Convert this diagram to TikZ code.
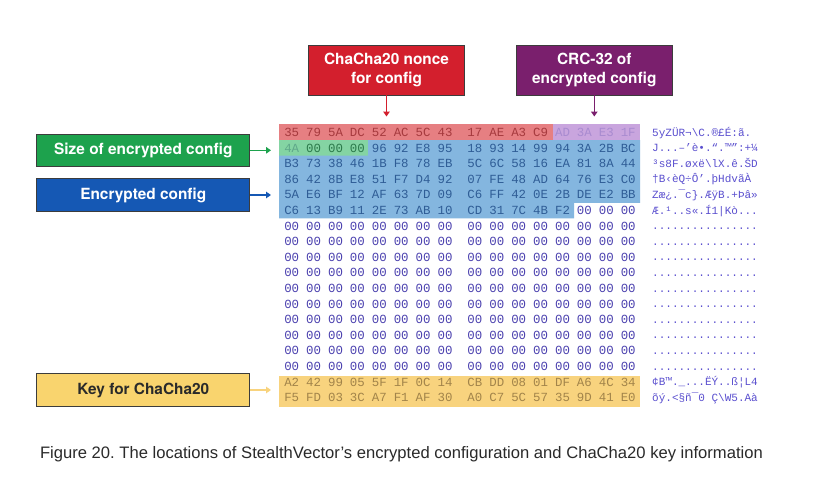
\documentclass[tikz,border=0pt]{standalone}
\usepackage{fontspec}
\setmainfont{Liberation Sans}
\setmonofont{Liberation Mono}
\newfontfamily\policeCadre{TeX Gyre Heros}
\usepackage{xcolor}
\definecolor{hexRed}{HTML}{D31F2D}
\definecolor{hexPurple}{HTML}{7A1F6D}
\definecolor{hexGreen}{HTML}{1DA24D}
\definecolor{hexBlue}{HTML}{1558B4}
\definecolor{hexYellow}{HTML}{F9D46E}
\definecolor{hexFrame}{HTML}{3C3C3C}
\definecolor{hexRedPale}{HTML}{E67F82}
\definecolor{hexPurplePale}{HTML}{C9A5DE}
\definecolor{hexGreenPale}{HTML}{84D4A3}
\definecolor{hexBluePale}{HTML}{84B6DF}
\definecolor{hexYellowPale}{HTML}{F8D37E}
\definecolor{hexRedText}{HTML}{A63A3E}
\definecolor{hexPurpleText}{HTML}{A98BD0}
\definecolor{hexGreenText}{HTML}{2C7A4B}
\definecolor{hexGreenFaint}{HTML}{5FA88A}
\definecolor{hexBlueText}{HTML}{2F5D96}
\definecolor{hexYellowText}{HTML}{A2844A}
\definecolor{hexZero}{HTML}{4B41AF}
\definecolor{hexAscii}{HTML}{5A4FCF}
\definecolor{hexCaption}{HTML}{2A2A2A}
\usetikzlibrary{arrows.meta}
\newcommand{\teinteOctet}[2]{%
  \ifnum#1=0 \ifnum#2<12 hexRedText\else hexPurpleText\fi
  \else\ifnum#1=1 \ifnum#2=0 hexGreenFaint\else\ifnum#2<4 hexGreenText\else hexBlueText\fi\fi
  \else\ifnum#1<5 hexBlueText%
  \else\ifnum#1=5 \ifnum#2<13 hexBlueText\else hexZero\fi
  \else\ifnum#1<16 hexZero%
  \else hexYellowText\fi\fi\fi\fi\fi}
\tikzset{
  %% ── Label boxes ──────────────────────────────────────────────────────
  %% One box per field of the blob, filled with the colour that marks the
  %% same bytes in the dump.
  cadre/.style       = {draw=hexFrame, line width=0.8pt, text=white,
                        align=center, inner sep=0pt,
                        font=\policeCadre\bfseries\fontsize{15.4}{18.3}\selectfont},
  cadreHaut/.style   = {cadre, minimum width=156, minimum height=50},
  cadreGauche/.style = {cadre, minimum width=213, minimum height=32.5},
  %%
  %% ── Arrows ───────────────────────────────────────────────────────────
  fleche/.style      = {-{Triangle[length=5pt, width=6.5pt]}, line width=1.5pt},
  %%
  %% ── Dump ─────────────────────────────────────────────────────────────
  %% Bytes hang on their baseline, so every row keeps one height whatever
  %% the digits are.
  octet/.style       = {font=\ttfamily\fontsize{12.4}{12.4}\selectfont,
                        inner sep=0pt, anchor=base},
  texteAscii/.style  = {font=\ttfamily\fontsize{11}{11}\selectfont,
                        text=hexAscii, inner sep=0pt, anchor=base west},
  legende/.style     = {font=\fontsize{16.6}{16.6}\selectfont, text=hexCaption,
                        inner sep=0pt, execute at begin node=\frenchspacing},
}

\begin{document}
\begin{tikzpicture}[x=1pt, y=-1pt]

\useasboundingbox[fill=white] (0,0) rectangle (833,480);

\fill[hexRedPale]    (279,124.3) rectangle (552.7,140);
\fill[hexPurplePale] (552.7,124.3) rectangle (640,140);
\fill[hexGreenPale]  (279,140) rectangle (368,155.6);
\fill[hexBluePale]   (368,140) -- (640,140) -- (640,202.8) -- (574,202.8)
                     -- (574,218.4) -- (279,218.4) -- (279,155.6) -- (368,155.6) -- cycle;
\fill[hexYellowPale] (279,375.5) rectangle (640,406.8);

\foreach \r/\octets in {
    0/{35,79,5A,DC,52,AC,5C,43,17,AE,A3,C9,AD,3A,E3,1F},
    1/{4A,00,00,00,96,92,E8,95,18,93,14,99,94,3A,2B,BC},
    2/{B3,73,38,46,1B,F8,78,EB,5C,6C,58,16,EA,81,8A,44},
    3/{86,42,8B,E8,51,F7,D4,92,07,FE,48,AD,64,76,E3,C0},
    4/{5A,E6,BF,12,AF,63,7D,09,C6,FF,42,0E,2B,DE,E2,BB},
    5/{C6,13,B9,11,2E,73,AB,10,CD,31,7C,4B,F2,00,00,00},
    16/{A2,42,99,05,5F,1F,0C,14,CB,DD,08,01,DF,A6,4C,34},
    17/{F5,FD,03,3C,A7,F1,AF,30,A0,C7,5C,57,35,9D,41,E0}}
  \foreach \o [count=\c from 0] in \octets {
    \edef\tinte{\teinteOctet{\r}{\c}}
    \pgfmathsetmacro\xo{291.7+21.9*\c+(\c>7)*8}
    \node[octet, text=\tinte] (o-\r-\c) at (\xo, 136.4+15.6*\r) {\o};
  }
\foreach \r in {6,...,15}
  \foreach \c in {0,...,15} {
    \pgfmathsetmacro\xo{291.7+21.9*\c+(\c>7)*8}
    \node[octet, text=hexZero] (o-\r-\c) at (\xo, 136.4+15.6*\r) {00};
  }

\foreach \r/\ligne in {
    0/{5yZÜR¬\textbackslash C.®£É:ã.},
    1/{J...–’è•.“.™”:+¼},
    2/{³s8F.øxë\textbackslash lX.ê.ŠD},
    3/{†B‹èQ÷Ô’.þHdvãÀ},
    4/{Zæ¿.¯c\}.ÆÿB.+Þâ»},
    5/{Æ.¹..s«.Í1|Kò...},
    6/{................}, 7/{................}, 8/{................},
    9/{................}, 10/{................}, 11/{................},
    12/{................}, 13/{................}, 14/{................},
    15/{................},
    16/{¢B™.\_...ËÝ..ß¦L4},
    17/{õý.<§ñ¯0\ Ç\textbackslash W5.Aà}}
  \node[texteAscii] (a-\r) at (652, 136+15.6*\r) {\ligne};

\node[cadreHaut, fill=hexRed] (nonce) at (386.5, 70) {ChaCha20 nonce\\for config};
\node[cadreHaut, fill=hexPurple] (crc) at (594.3, 70) {CRC-32 of\\encrypted config};
\node[cadreGauche, fill=hexGreen] (taille) at (143.3, 150.3) {Size of encrypted config};
\node[cadreGauche, fill=hexBlue] (config) at (143.3, 195) {Encrypted config};
\node[cadreGauche, fill=hexYellow, text=hexCaption] (cle) at (143.3, 390) {Key for ChaCha20};

\coordinate (versNonce)  at (386.5, 116.5);
\coordinate (versCrc)    at (594.3, 116.5);
\coordinate (versTaille) at (271, 150.3);
\coordinate (versConfig) at (271, 195);
\coordinate (versCle)    at (271, 390);

\draw[fleche, hexRed] (nonce) -- (versNonce);
\draw[fleche, hexPurple] (crc) -- (versCrc);
\draw[fleche, hexGreen] (taille) -- (versTaille);
\draw[fleche, hexBlue] (config) -- (versConfig);
\draw[fleche, hexYellowPale] (cle) -- (versCle);

\node[legende] (titre) at (401.5, 454)
     {Figure 20. The locations of StealthVector’s encrypted configuration and ChaCha20 key information};

\end{tikzpicture}
\end{document}
